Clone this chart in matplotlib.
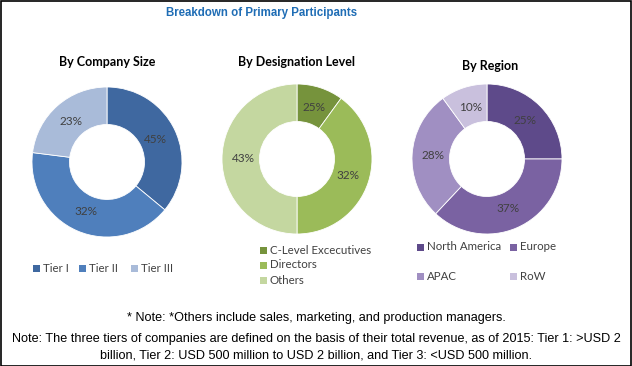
import matplotlib
matplotlib.use("Agg")
import matplotlib.pyplot as plt
from matplotlib.patches import Rectangle

W, H = 632, 366

# slice shares as drawn in the picture, and the printed labels
company_names = ["Tier I", "Tier II", "Tier III"]
company_share = [36, 41, 23]
company_labels = ["45%", "32%", "23%"]
company_colors = ["#3F68A0", "#4F7FBC", "#A9BBD9"]

design_names = ["C-Level Excecutives", "Directors", "Others"]
design_share = [10, 40, 50]
design_labels = ["25%", "32%", "43%"]
design_colors = ["#76933C", "#9BBB59", "#C4D7A0"]

region_names = ["North America", "Europe", "APAC", "RoW"]
region_share = [25, 37, 28, 10]
region_labels = ["25%", "37%", "28%", "10%"]
region_colors = ["#5E4A8A", "#7A62A2", "#A08FC2", "#C9C0DD"]

title = "Breakdown of Primary Participants"
subtitles = ["By Company Size", "By Designation Level", "By Region"]
notes = [
    "* Note: *Others include sales, marketing, and production managers.",
    "Note: The three tiers of companies are defined on the basis of their total revenue, as of 2015: Tier 1: >USD 2",
    "billion, Tier 2: USD 500 million to USD 2 billion, and Tier 3: <USD 500 million.",
]

narrow = ["Liberation Sans", "DejaVu Sans"]
body = ["Lato", "DejaVu Sans"]
txt_col = "#404040"

fig = plt.figure(figsize=(W / 100, H / 100), dpi=100)


def px(x, y):
    return x / W, 1 - y / H


def donut(cx, cy, r, shares, labels, colors):
    ax = fig.add_axes([(cx - r) / W, 1 - (cy + r) / H, 2 * r / W, 2 * r / H])
    wedges, texts = ax.pie(shares, labels=labels, colors=colors, startangle=90,
                           counterclock=False, radius=1, labeldistance=0.72,
                           wedgeprops=dict(width=0.5, edgecolor="white", linewidth=0.6),
                           textprops=dict(color=txt_col, fontsize=8.5, family=body))
    for t in texts:
        t.set_ha("center")
        t.set_va("center")
    ax.set_xlim(-1, 1)
    ax.set_ylim(-1, 1)
    ax.set_aspect("equal")
    ax.axis("off")


def legend_item(x, y, name, color):
    fx, fy = px(x, y + 3.5)
    fig.patches.append(Rectangle((fx, fy), 7 / W, 7 / H, transform=fig.transFigure,
                                 facecolor=color, edgecolor="none"))
    tx, ty = px(x + 10, y)
    fig.text(tx, ty, name, fontsize=8.3, color=txt_col, family=body, va="center", ha="left")


donut(107, 162, 75, company_share, company_labels, company_colors)
donut(297, 159, 75, design_share, design_labels, design_colors)
donut(487, 159, 75, region_share, region_labels, region_colors)

# title and subtitles
fig.text(*px(262, 13), title, fontsize=8.3, fontweight="bold", color="#1F6DB5",
         family=narrow, ha="center", va="center")
for (x, y), s in zip([(107, 62), (296, 62), (490, 66)], subtitles):
    fig.text(*px(x, y), s, fontsize=9, fontweight="bold", color="black",
             family=body, ha="center", va="center")

# legends
for x, name, c in zip([33, 79, 131], company_names, company_colors):
    legend_item(x, 268, name, c)
for y, name, c in zip([250, 265, 280], design_names, design_colors):
    legend_item(260, y, name, c)
for (x, y), name, c in zip([(417, 247), (510, 247), (417, 276), (510, 276)],
                           region_names, region_colors):
    legend_item(x, y, name, c)

# notes
for y, s in zip([318, 339, 356], notes):
    fig.text(*px(316, y), s, fontsize=9.1, color="black", family=narrow,
             ha="center", va="center")

# frame
fig.patches.append(Rectangle((0.5 / W, 0.5 / H), 1 - 1.5 / W, 1 - 1.5 / H,
                             transform=fig.transFigure, fill=False,
                             edgecolor="black", linewidth=1.2))

fig.savefig("out.png", dpi=100)
